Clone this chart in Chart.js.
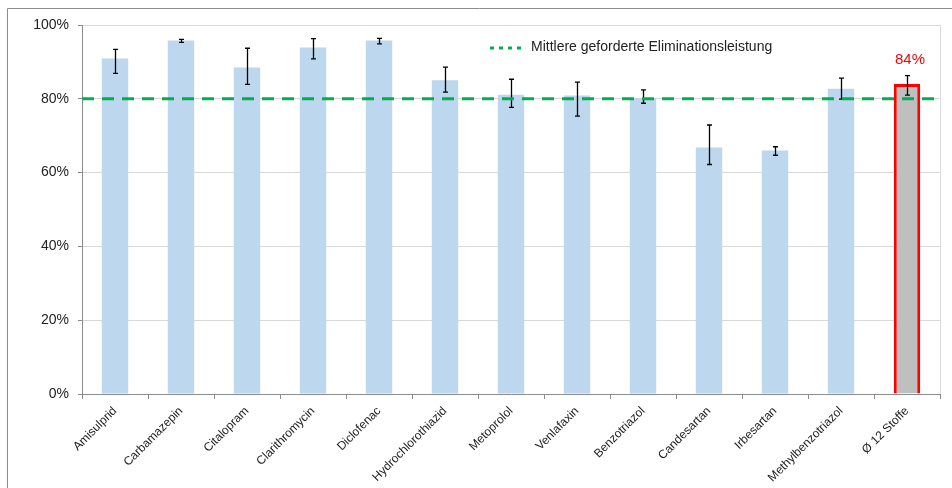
<!DOCTYPE html>
<html>
<head>
<meta charset="utf-8">
<script src="https://cdn.jsdelivr.net/npm/chart.js@4/dist/chart.umd.min.js"></script>
<style>
  body { margin: 0; background: #fff; }
  #wrap { width: 952px; height: 488px; }
</style>
</head>
<body>
<div id="wrap"><canvas id="elimChart" width="952" height="488"></canvas></div>
<script>
const substances = ["Amisulprid", "Carbamazepin", "Citalopram", "Clarithromycin", "Diclofenac",
    "Hydrochlorothiazid", "Metoprolol", "Venlafaxin", "Benzotriazol", "Candesartan",
    "Irbesartan", "Methylbenzotriazol", "Ø 12 Stoffe"];
const elimination = [90.9, 95.8, 88.5, 93.9, 95.8, 85.0, 81.1, 80.9, 80.2, 66.8, 66.0, 82.7, 84.0];
const errLow  = [86.9, 95.3, 83.9, 90.8, 94.9, 81.8, 77.7, 75.3, 78.8, 62.2, 64.7, 79.9, 81.0];
const errHigh = [93.4, 96.1, 93.7, 96.3, 96.4, 88.6, 85.3, 84.5, 82.4, 72.9, 67.0, 85.6, 86.3];
const target = 80;
const targetLabel = "Mittlere geforderte Eliminationsleistung";
const averageLabel = "84%";

const fontFamily = "'Liberation Sans', Arial, sans-serif";
const lastIdx = substances.length - 1;

// frame, error bars, target line, legend and the red label
const extrasPlugin = {
    id: 'extras',
    beforeDraw(chart) {
        const ctx = chart.ctx;
        ctx.save();
        ctx.strokeStyle = '#8c8c8c';
        ctx.lineWidth = 1;
        ctx.beginPath();
        ctx.moveTo(7.5, 488);
        ctx.lineTo(7.5, 8.5);
        ctx.lineTo(952, 8.5);
        ctx.stroke();
        ctx.restore();
    },
    afterDatasetsDraw(chart) {
        const ctx = chart.ctx;
        const x = chart.scales.x, y = chart.scales.y;
        const area = chart.chartArea;
        ctx.save();

        // right border of plot area
        ctx.strokeStyle = '#d9d9d9';
        ctx.lineWidth = 1;
        ctx.beginPath();
        ctx.moveTo(Math.round(area.right) + 0.5, area.top);
        ctx.lineTo(Math.round(area.right) + 0.5, area.bottom);
        ctx.stroke();

        // error bars
        ctx.strokeStyle = '#000';
        ctx.lineWidth = 1.3;
        substances.forEach((s, i) => {
            const cx = Math.round(x.getPixelForValue(i)) + 0.5;
            const yl = y.getPixelForValue(errLow[i]);
            const yh = y.getPixelForValue(errHigh[i]);
            ctx.beginPath();
            ctx.moveTo(cx, yl); ctx.lineTo(cx, yh);
            ctx.moveTo(cx - 2.5, yl); ctx.lineTo(cx + 2.5, yl);
            ctx.moveTo(cx - 2.5, yh); ctx.lineTo(cx + 2.5, yh);
            ctx.stroke();
        });

        // target line
        const ty = y.getPixelForValue(target);
        ctx.strokeStyle = '#00b050';
        ctx.lineWidth = 3;
        ctx.setLineDash([12, 8]);
        ctx.beginPath();
        ctx.moveTo(area.left, ty);
        ctx.lineTo(area.right, ty);
        ctx.stroke();

        // legend
        ctx.lineWidth = 3;
        ctx.setLineDash([4, 5]);
        ctx.beginPath();
        ctx.moveTo(490, 48);
        ctx.lineTo(524, 48);
        ctx.stroke();
        ctx.setLineDash([]);
        ctx.fillStyle = '#222';
        ctx.font = '14px ' + fontFamily;
        ctx.textAlign = 'left';
        ctx.textBaseline = 'middle';
        ctx.fillText(targetLabel, 531, 47);

        // average label
        ctx.fillStyle = '#ff0000';
        ctx.font = '15px ' + fontFamily;
        ctx.textAlign = 'center';
        ctx.textBaseline = 'middle';
        ctx.fillText(averageLabel, x.getPixelForValue(lastIdx) + 3, y.getPixelForValue(errHigh[lastIdx]) - 16);
        ctx.restore();
    }
};

const ctx = document.getElementById('elimChart').getContext('2d');
new Chart(ctx, {
    type: 'bar',
    data: {
        labels: substances,
        datasets: [{
            data: elimination,
            backgroundColor: substances.map((s, i) => i === lastIdx ? '#bfbfbf' : '#bdd7ee'),
            borderColor: substances.map((s, i) => i === lastIdx ? '#ff0000' : 'rgba(0,0,0,0)'),
            borderWidth: substances.map((s, i) => i === lastIdx ? 3 : 0),
            categoryPercentage: 1,
            barPercentage: 0.4
        }]
    },
    options: {
        responsive: false,
        animation: false,
        layout: { padding: { top: 25, right: 12, left: 0, bottom: 0 } },
        plugins: { legend: { display: false }, tooltip: { enabled: false } },
        scales: {
            x: {
                grid: { offset: true, drawOnChartArea: false, tickLength: 5, color: '#8c8c8c' },
                border: { color: '#8c8c8c' },
                ticks: {
                    maxRotation: 45, minRotation: 45, autoSkip: false,
                    color: '#222', font: { family: fontFamily, size: 12 }, padding: 5
                },
                afterFit(scale) { scale.height = 94; }
            },
            y: {
                min: 0, max: 100,
                grid: { color: '#d9d9d9', tickColor: '#8c8c8c', tickLength: 4 },
                border: { color: '#8c8c8c' },
                ticks: {
                    stepSize: 20, padding: 9, color: '#222',
                    font: { family: fontFamily, size: 14 },
                    callback: v => v + '%'
                },
                afterFit(scale) { scale.width = 82; }
            }
        }
    },
    plugins: [extrasPlugin]
});
</script>
</body>
</html>
